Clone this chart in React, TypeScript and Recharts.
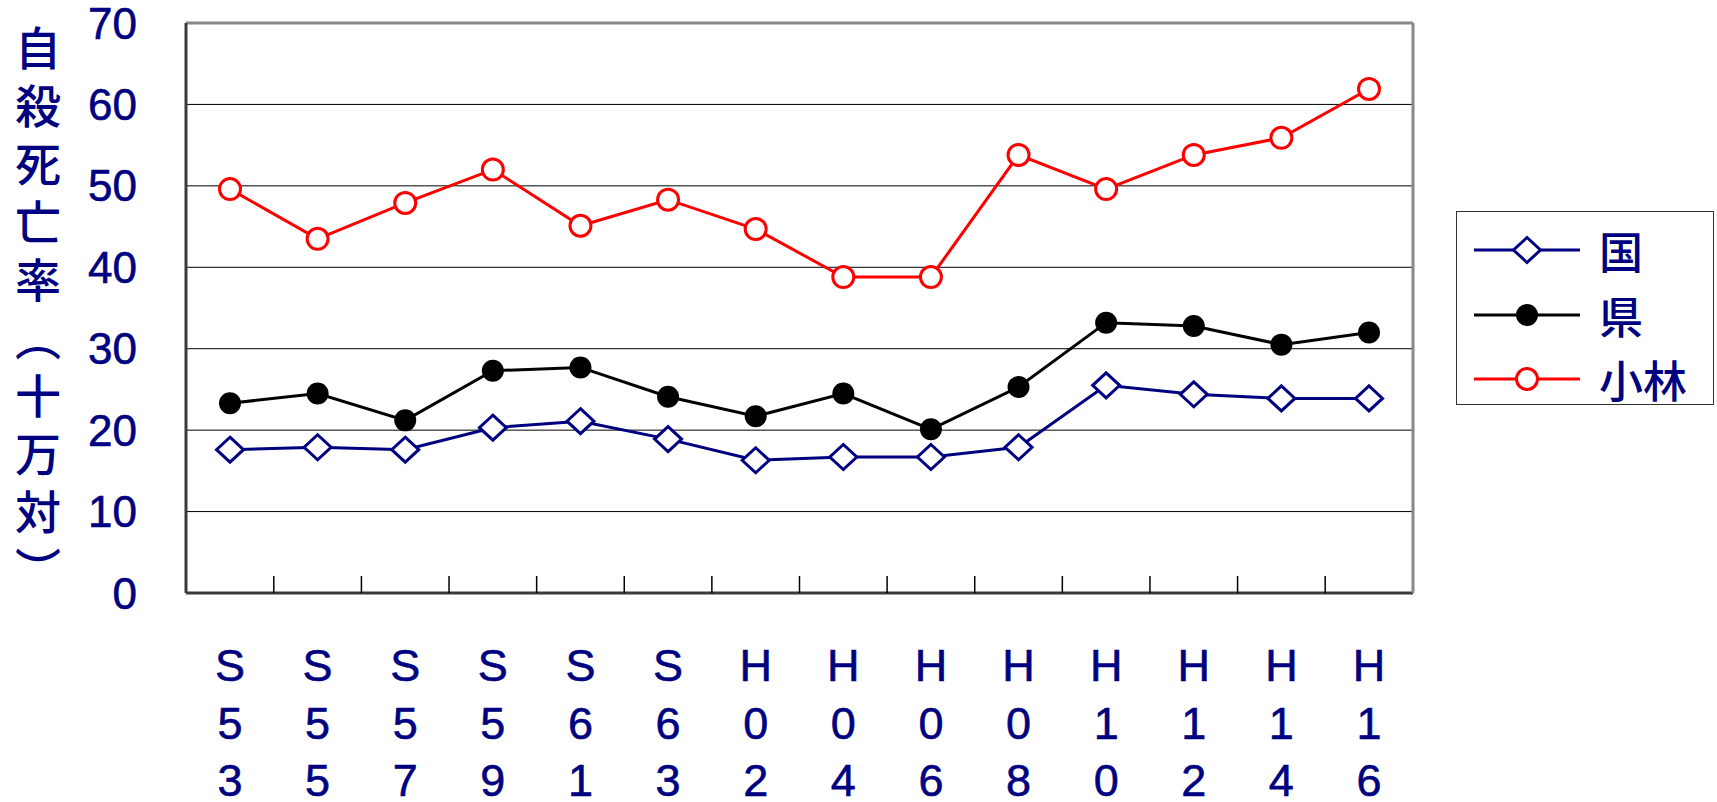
import React from "react";
import {
  LineChart,
  Line,
  XAxis,
  YAxis,
  CartesianGrid,
  Legend,
} from "recharts";

// 年次（昭和・平成）
const years = ["S53", "S55", "S57", "S59", "S61", "S63", "H02", "H04", "H06", "H08", "H10", "H12", "H14", "H16"];

// 自殺死亡率（十万対）
const kuni = [17.6, 17.9, 17.6, 20.3, 21.1, 18.9, 16.3, 16.7, 16.7, 17.9, 25.5, 24.4, 23.9, 23.9];
const ken = [23.3, 24.5, 21.2, 27.3, 27.7, 24.1, 21.7, 24.5, 20.1, 25.3, 33.2, 32.8, 30.5, 32.0];
const kobayashi = [49.6, 43.5, 47.9, 52.0, 45.1, 48.3, 44.7, 38.8, 38.8, 53.8, 49.6, 53.8, 55.9, 61.9];

const seriesNames = ["国", "県", "小林"];
const yTicks = [0, 10, 20, 30, 40, 50, 60, 70];

const data = years.map((year, i) => ({
  year,
  国: kuni[i],
  県: ken[i],
  小林: kobayashi[i],
}));

const NAVY = "#000080";
const RED = "#FF0000";
const LATIN = "'Liberation Sans', Arial, sans-serif";
const CJK = "'Noto Sans CJK JP', sans-serif";
const STEP = 87.6; // width of one year band

const Diamond = ({ cx, cy }: any) => {
  if (cx == null || cy == null) return null;
  return (
    <path
      d={`M${cx},${cy - 12.5}L${cx + 13.5},${cy}L${cx},${cy + 12.5}L${cx - 13.5},${cy}Z`}
      fill="#fff"
      stroke={NAVY}
      strokeWidth={3}
    />
  );
};

const Dot = ({ cx, cy }: any) => {
  if (cx == null || cy == null) return null;
  return <circle cx={cx} cy={cy} r={11} fill="#000" />;
};

const Ring = ({ cx, cy }: any) => {
  if (cx == null || cy == null) return null;
  return <circle cx={cx} cy={cy} r={10.5} fill="#fff" stroke={RED} strokeWidth={3} />;
};

const XTick = ({ x, y, payload, index }: any) => {
  const chars = String(payload.value).split("");
  return (
    <g>
      {index < years.length - 1 && (
        <line x1={x + STEP / 2} x2={x + STEP / 2} y1={y} y2={y - 17} stroke="#000" strokeWidth={1.5} />
      )}
      <text textAnchor="middle" fill={NAVY} fontSize={45} fontFamily={LATIN} stroke={NAVY} strokeWidth={0.6}>
        {chars.map((c, i) => (
          <tspan key={i} x={x} y={y + 88 + i * 57.5}>
            {c}
          </tspan>
        ))}
      </text>
    </g>
  );
};

const YTitle = () => (
  <text
    x={38}
    y={25}
    fill={NAVY}
    fontSize={46}
    fontWeight={500}
    fontFamily={CJK}
    letterSpacing={12}
    style={{ writingMode: "vertical-rl" }}
  >
    自殺死亡率（十万対）
  </text>
);

const legendIcon = (name: string) => {
  if (name === "国")
    return (
      <>
        <line x1={17} x2={123} y1={32} y2={32} stroke={NAVY} strokeWidth={3} />
        <Diamond cx={70} cy={32} />
      </>
    );
  if (name === "県")
    return (
      <>
        <line x1={17} x2={123} y1={32} y2={32} stroke="#000" strokeWidth={3} />
        <Dot cx={70} cy={32} />
      </>
    );
  return (
    <>
      <line x1={17} x2={123} y1={32} y2={32} stroke={RED} strokeWidth={3} />
      <Ring cx={70} cy={32} />
    </>
  );
};

const renderLegend = (props: any) => {
  const payload = [...(props.payload || [])].sort(
    (a: any, b: any) => seriesNames.indexOf(a.value) - seriesNames.indexOf(b.value)
  );
  return (
    <div
      style={{
        width: 258,
        height: 194,
        border: "1.5px solid #333",
        boxSizing: "border-box",
        background: "#fff",
        paddingTop: 6,
      }}
    >
      {payload.map((entry: any) => (
        <div key={entry.value} style={{ display: "flex", alignItems: "center", height: 64.5 }}>
          <svg width={142} height={64} style={{ flex: "none" }}>
            {legendIcon(entry.value)}
          </svg>
          <span style={{ fontSize: 44, lineHeight: "44px", color: NAVY, fontFamily: CJK, fontWeight: 500 }}>
            {entry.value}
          </span>
        </div>
      ))}
    </div>
  );
};

const App = () => {
  return (
    <div style={{ position: "absolute", left: 0, top: 0, background: "#fff" }}>
      <LineChart width={1717} height={802} data={data} margin={{ top: 22, right: 303, bottom: 0, left: 0 }}>
        <CartesianGrid vertical={false} stroke="#000" strokeWidth={1} />
        <XAxis
          dataKey="year"
          height={209}
          interval={0}
          padding={{ left: 44, right: 44 }}
          axisLine={{ stroke: "#3a3a3a", strokeWidth: 3 }}
          tickLine={false}
          tickSize={0}
          tickMargin={0}
          tick={<XTick />}
        />
        <XAxis
          xAxisId="top"
          orientation="top"
          dataKey="year"
          height={1}
          padding={{ left: 44, right: 44 }}
          axisLine={{ stroke: "#888", strokeWidth: 3 }}
          tick={false}
          tickLine={false}
        />
        <YAxis
          width={186}
          domain={[0, 70]}
          ticks={yTicks}
          interval={0}
          axisLine={{ stroke: "#3a3a3a", strokeWidth: 3 }}
          tickLine={false}
          tickSize={0}
          tickMargin={49}
          tick={{ fill: NAVY, fontSize: 44, fontFamily: LATIN, stroke: NAVY, strokeWidth: 0.6 }}
          label={<YTitle />}
        />
        <YAxis
          yAxisId="right"
          orientation="right"
          width={1}
          domain={[0, 70]}
          ticks={yTicks}
          axisLine={{ stroke: "#888", strokeWidth: 3 }}
          tick={false}
          tickLine={false}
        />
        <Legend
          layout="horizontal"
          verticalAlign="middle"
          align="center"
          content={renderLegend}
          wrapperStyle={{ left: 1456, top: 211, width: 258, height: 194 }}
        />
        <Line
          dataKey="国"
          stroke={NAVY}
          strokeWidth={3}
          dot={<Diamond />}
          activeDot={false}
          isAnimationActive={false}
        />
        <Line
          xAxisId="top"
          dataKey="県"
          stroke="#000"
          strokeWidth={3}
          dot={<Dot />}
          activeDot={false}
          isAnimationActive={false}
        />
        <Line
          yAxisId="right"
          dataKey="小林"
          stroke={RED}
          strokeWidth={3}
          dot={<Ring />}
          activeDot={false}
          isAnimationActive={false}
        />
      </LineChart>
    </div>
  );
};

export default App;
